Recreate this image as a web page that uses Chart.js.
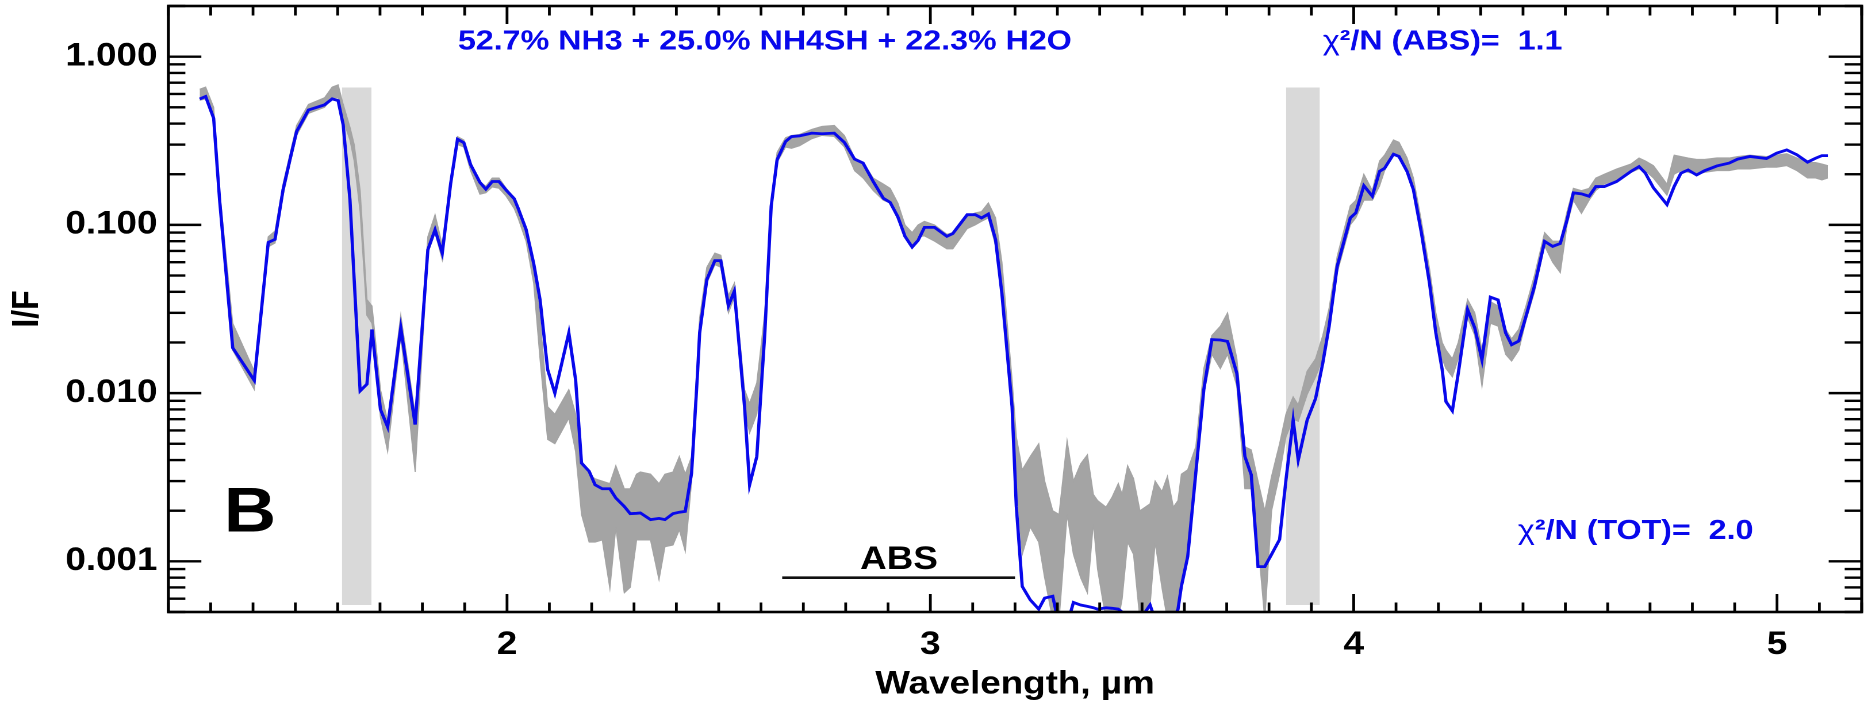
<!DOCTYPE html>
<html>
<head>
<meta charset="utf-8">
<title>I/F spectrum and cloud model fit</title>
<script src="https://cdn.jsdelivr.net/npm/chart.js@4.4.1/dist/chart.umd.min.js"></script>
<style>
  html, body { margin: 0; padding: 0; background: #fff; overflow: hidden; }
  /* The original figure is stretched sideways: draw it narrower, then stretch it back. */
  #wrap { width: 1621px; height: 708px; transform: scaleX(1.1499); transform-origin: 0 0; }
</style>
</head>
<body>
<div id="wrap"><canvas id="chart" width="1621" height="708"></canvas></div>
<script>
// ---------------------------------------------------------------------------
// Spectrum (grey band = observed I/F with its error range) and the best model
// (blue). Values read off the original figure.
// ---------------------------------------------------------------------------

// ===== data =====
const wavelength = [
  1.274, 1.288, 1.307, 1.321, 1.352, 1.403, 1.436, 1.452, 1.471, 1.489,
  1.503, 1.531, 1.569, 1.587, 1.601, 1.613, 1.629, 1.639, 1.653, 1.669,
  1.681, 1.701, 1.718, 1.749, 1.783, 1.813, 1.830, 1.847, 1.867, 1.883,
  1.898, 1.914, 1.936, 1.950, 1.965, 1.981, 1.998, 2.017, 2.026, 2.045,
  2.063, 2.078, 2.096, 2.113, 2.146, 2.162, 2.176, 2.194, 2.208, 2.225,
  2.243, 2.257, 2.277, 2.291, 2.306, 2.315, 2.339, 2.359, 2.373, 2.392,
  2.407, 2.421, 2.436, 2.450, 2.455, 2.472, 2.491, 2.505, 2.523, 2.537,
  2.561, 2.573, 2.590, 2.609, 2.624, 2.638, 2.658, 2.672, 2.691, 2.720,
  2.744, 2.773, 2.797, 2.821, 2.841, 2.865, 2.889, 2.905, 2.923, 2.940,
  2.957, 2.971, 2.986, 3.010, 3.039, 3.053, 3.087, 3.106, 3.121, 3.137,
  3.154, 3.169, 3.193, 3.203, 3.217, 3.236, 3.256, 3.270, 3.289, 3.304,
  3.323, 3.338, 3.355, 3.371, 3.385, 3.395, 3.415, 3.429, 3.444, 3.453,
  3.466, 3.480, 3.495, 3.519, 3.531, 3.547, 3.560, 3.574, 3.585, 3.593,
  3.608, 3.627, 3.646, 3.665, 3.685, 3.702, 3.724, 3.743, 3.758, 3.774,
  3.790, 3.806, 3.825, 3.840, 3.857, 3.869, 3.890, 3.910, 3.927, 3.942,
  3.961, 3.992, 4.005, 4.024, 4.044, 4.061, 4.073, 4.094, 4.107, 4.126,
  4.141, 4.160, 4.179, 4.194, 4.209, 4.218, 4.233, 4.247, 4.269, 4.286,
  4.303, 4.323, 4.341, 4.359, 4.373, 4.390, 4.407, 4.427, 4.451, 4.470,
  4.488, 4.504, 4.519, 4.538, 4.556, 4.572, 4.592, 4.621, 4.655, 4.674,
  4.689, 4.708, 4.740, 4.757, 4.773, 4.790, 4.810, 4.829, 4.858, 4.887,
  4.907, 4.936, 4.975, 4.999, 5.023, 5.047, 5.072, 5.091, 5.106, 5.120,
];

// best-fit model I/F (blue line)
const modelIF = [
  0.56, 0.58, 0.43, 0.141, 0.0186, 0.0119, 0.0787, 0.082, 0.162, 0.255,
  0.359, 0.482, 0.517, 0.561, 0.548, 0.393, 0.141, 0.047, 0.0103, 0.0113,
  0.0239, 0.0080, 0.0063, 0.0244, 0.0065, 0.0712, 0.0936, 0.068, 0.177, 0.323,
  0.308, 0.228, 0.179, 0.163, 0.181, 0.181, 0.161, 0.143, 0.126, 0.094,
  0.059, 0.036, 0.0138, 0.0100, 0.0228, 0.0120, 0.00384, 0.00343, 0.00285, 0.0027,
  0.0027, 0.00238, 0.00212, 0.00192, 0.00193, 0.00194, 0.00177, 0.0018, 0.00177, 0.00192,
  0.00196, 0.00198, 0.00335, 0.0131, 0.0228, 0.0473, 0.0613, 0.0613, 0.0331, 0.0403,
  0.00834, 0.00285, 0.0042, 0.0228, 0.129, 0.244, 0.313, 0.335, 0.338, 0.351,
  0.348, 0.351, 0.309, 0.246, 0.233, 0.181, 0.144, 0.136, 0.112, 0.0855,
  0.0738, 0.0809, 0.0966, 0.0966, 0.0855, 0.0888, 0.115, 0.115, 0.110, 0.116,
  0.0817, 0.039, 0.0083, 0.00212, 0.00071, 0.00059, 0.00052, 0.000605, 0.00062, 0.00042,
  0.00042, 0.00057, 0.00055, 0.00054, 0.00053, 0.00052, 0.00053, 0.000526, 0.00052, 0.0005,
  0.00045, 0.00045, 0.00045, 0.00055, 0.00045, 0.00045, 0.00045, 0.00045, 0.00052, 0.00071,
  0.00107, 0.00335, 0.0105, 0.0208, 0.0207, 0.0203, 0.0131, 0.0042, 0.00327, 0.00093,
  0.00093, 0.0011, 0.00135, 0.00305, 0.0069, 0.0040, 0.0069, 0.0093, 0.0151, 0.025,
  0.0567, 0.110, 0.118, 0.171, 0.148, 0.208, 0.217, 0.263, 0.255, 0.208,
  0.162, 0.0895, 0.0452, 0.0228, 0.0138, 0.0089, 0.00785, 0.0131, 0.0314, 0.0244,
  0.0158, 0.0372, 0.0358, 0.0228, 0.0194, 0.0204, 0.0286, 0.0432, 0.0798, 0.0745,
  0.0775, 0.107, 0.155, 0.153, 0.148, 0.169, 0.169, 0.181, 0.208, 0.222,
  0.203, 0.166, 0.132, 0.169, 0.203, 0.212, 0.198, 0.210, 0.224, 0.233,
  0.246, 0.255, 0.248, 0.267, 0.279, 0.261, 0.236, 0.249, 0.258, 0.258,
];

// observed I/F, lower and upper edge of the grey band
const dataLow = [
  0.55, 0.56, 0.42, 0.13, 0.018, 0.0105, 0.074, 0.078, 0.15, 0.24,
  0.34, 0.46, 0.50, 0.57, 0.57, 0.42, 0.32, 0.24, 0.12, 0.029,
  0.026, 0.0072, 0.0045, 0.022, 0.0034, 0.068, 0.09, 0.062, 0.17, 0.30,
  0.29, 0.21, 0.152, 0.155, 0.168, 0.165, 0.148, 0.125, 0.11, 0.08,
  0.045, 0.016, 0.0053, 0.0050, 0.0071, 0.0045, 0.0019, 0.0013, 0.0013, 0.00134,
  0.00069, 0.0016, 0.00065, 0.0007, 0.00134, 0.00134, 0.00134, 0.00078, 0.00122, 0.00125,
  0.00154, 0.00115, 0.0030, 0.012, 0.021, 0.045, 0.058, 0.056, 0.030, 0.037,
  0.0080, 0.0058, 0.0075, 0.022, 0.12, 0.235, 0.29, 0.285, 0.295, 0.325,
  0.34, 0.335, 0.29, 0.21, 0.19, 0.16, 0.14, 0.135, 0.108, 0.085,
  0.076, 0.085, 0.086, 0.080, 0.072, 0.072, 0.095, 0.10, 0.105, 0.11,
  0.075, 0.040, 0.008, 0.0030, 0.0011, 0.0016, 0.0013, 0.0008, 0.00045, 0.00045,
  0.0019, 0.0011, 0.0008, 0.00065, 0.0017, 0.0009, 0.00045, 0.00045, 0.00045, 0.0006,
  0.0013, 0.0011, 0.00045, 0.00055, 0.0013, 0.0007, 0.00045, 0.00045, 0.00045, 0.0008,
  0.0011, 0.0032, 0.010, 0.017, 0.014, 0.017, 0.011, 0.0027, 0.0027, 0.0013,
  0.00045, 0.0020, 0.0033, 0.0055, 0.0070, 0.0068, 0.0098, 0.0125, 0.016, 0.024,
  0.052, 0.10, 0.11, 0.14, 0.14, 0.17, 0.21, 0.27, 0.25, 0.21,
  0.16, 0.085, 0.042, 0.022, 0.016, 0.014, 0.0125, 0.016, 0.028, 0.022,
  0.011, 0.026, 0.025, 0.017, 0.0155, 0.018, 0.027, 0.040, 0.075, 0.060,
  0.052, 0.10, 0.14, 0.117, 0.14, 0.16, 0.175, 0.185, 0.205, 0.215,
  0.21, 0.19, 0.15, 0.20, 0.21, 0.205, 0.20, 0.205, 0.21, 0.21,
  0.215, 0.215, 0.22, 0.22, 0.225, 0.21, 0.19, 0.19, 0.185, 0.19,
];
const dataHigh = [
  0.64, 0.66, 0.50, 0.16, 0.026, 0.0135, 0.085, 0.092, 0.175, 0.275,
  0.39, 0.52, 0.57, 0.66, 0.68, 0.52, 0.38, 0.30, 0.16, 0.036,
  0.033, 0.0105, 0.0068, 0.029, 0.0075, 0.085, 0.115, 0.076, 0.19, 0.335,
  0.32, 0.235, 0.18, 0.17, 0.19, 0.19, 0.165, 0.145, 0.13, 0.095,
  0.06, 0.028, 0.0083, 0.0075, 0.0105, 0.0075, 0.0038, 0.0033, 0.0031, 0.0030,
  0.0029, 0.0037, 0.0027, 0.0027, 0.0033, 0.0034, 0.0033, 0.0029, 0.0033, 0.0034,
  0.0042, 0.0033, 0.0042, 0.016, 0.028, 0.056, 0.068, 0.066, 0.038, 0.045,
  0.0105, 0.0087, 0.0115, 0.030, 0.14, 0.27, 0.33, 0.34, 0.345, 0.37,
  0.385, 0.39, 0.34, 0.25, 0.235, 0.19, 0.175, 0.165, 0.135, 0.10,
  0.09, 0.10, 0.105, 0.10, 0.088, 0.09, 0.112, 0.118, 0.12, 0.135,
  0.11, 0.06, 0.012, 0.0055, 0.0035, 0.0042, 0.0050, 0.0030, 0.0020, 0.0019,
  0.0052, 0.0030, 0.0038, 0.0043, 0.0025, 0.0023, 0.0021, 0.0024, 0.0029, 0.0025,
  0.0037, 0.0031, 0.0020, 0.0022, 0.0030, 0.0026, 0.0032, 0.0021, 0.0023, 0.0033,
  0.0035, 0.0048, 0.014, 0.022, 0.025, 0.030, 0.016, 0.0048, 0.0046, 0.0030,
  0.0020, 0.0032, 0.0050, 0.0075, 0.0095, 0.0085, 0.0135, 0.016, 0.022, 0.032,
  0.065, 0.13, 0.14, 0.20, 0.16, 0.24, 0.26, 0.32, 0.31, 0.25,
  0.19, 0.105, 0.055, 0.030, 0.020, 0.018, 0.016, 0.020, 0.036, 0.030,
  0.018, 0.035, 0.033, 0.024, 0.021, 0.024, 0.033, 0.050, 0.090, 0.080,
  0.080, 0.12, 0.165, 0.16, 0.165, 0.19, 0.20, 0.215, 0.23, 0.25,
  0.24, 0.225, 0.175, 0.26, 0.255, 0.25, 0.245, 0.245, 0.25, 0.25,
  0.255, 0.26, 0.255, 0.26, 0.265, 0.25, 0.235, 0.235, 0.23, 0.225,
];

// excluded wavelength windows (light grey columns)
const bandStart = [1.61, 3.84];
const bandEnd = [1.68, 3.92];
const bandTop = 0.655;
const bandBottom = 0.00055;

// the "ABS" range marker
const absFrom = 2.65;
const absTo = 3.20;
const absLevel = 0.0008;

// axes
const xMin = 1.2, xMax = 5.2;
const yMin = 0.0005, yMax = 2.0;
const xLabelled = [2, 3, 4, 5];
const yLabelled = [0.001, 0.01, 0.1, 1];

const mixText = "52.7% NH3 + 25.0% NH4SH + 22.3% H2O";
const chiAbsText = "²/N (ABS)=  1.1";
const chiTotText = "²/N (TOT)=  2.0";
// ================

const FONT = '"Liberation Sans", Arial, Helvetica, sans-serif';
const BLUE = "rgb(8,8,235)";
const GREY = "#a4a4a4";
const LIGHT = "#d9d9d9";

// tick values: every 0.1 um, and 1..9 per decade
const xTickValues = [];
for (let k = Math.round(xMin * 10); k <= Math.round(xMax * 10); k++) xTickValues.push(k / 10);
const yTickValues = [];
for (let e = -4; e <= 0; e++) {
  for (let m = 1; m <= 9; m++) {
    const v = m * Math.pow(10, e);
    if (v >= yMin * 0.999 && v <= yMax * 1.001) yTickValues.push(v);
  }
}
const isWhole = (v) => Math.abs(v - Math.round(v)) < 1e-9;
const decadeOf = (v) => yLabelled.find((d) => Math.abs(v / d - 1) < 1e-9);
const isDecade = (v) => Math.abs(Math.log10(v) - Math.round(Math.log10(v))) < 1e-9;

const pts = (ys) => wavelength.map((w, i) => ({ x: w, y: ys[i] }));

// --- frame, inward ticks on all four sides, and the text labels -------------
function seg(ctx, x1, y1, x2, y2) {
  ctx.beginPath();
  ctx.moveTo(x1, y1);
  ctx.lineTo(x2, y2);
  ctx.stroke();
}

function chi(ctx, rest, px, py) {
  ctx.font = `28px ${FONT}`;
  ctx.fillText("χ", px, py);
  const w = ctx.measureText("χ").width;
  ctx.font = `bold 28px ${FONT}`;
  ctx.fillText(rest, px + w, py);
}

const frame = {
  id: "frame",
  afterDatasetsDraw(chart) {
    const { ctx, chartArea: a, scales: { x, y } } = chart;
    ctx.save();
    ctx.strokeStyle = "#000";
    ctx.lineWidth = 2.4;
    x.ticks.forEach((t) => {
      const px = x.getPixelForValue(t.value);
      const len = isWhole(t.value) ? 18 : 9.5;
      seg(ctx, px, a.bottom, px, a.bottom - len);
      seg(ctx, px, a.top, px, a.top + len);
    });
    y.ticks.forEach((t) => {
      const py = y.getPixelForValue(t.value);
      const len = isDecade(t.value) ? 28.7 : 14.8;
      seg(ctx, a.left, py, a.left + len, py);
      seg(ctx, a.right, py, a.right - len, py);
    });
    ctx.lineWidth = 2.6;
    ctx.strokeRect(a.left, a.top, a.right - a.left, a.bottom - a.top);

    // annotations, placed in data coordinates
    ctx.textBaseline = "alphabetic";
    ctx.textAlign = "left";
    ctx.fillStyle = BLUE;
    ctx.font = `bold 28px ${FONT}`;
    ctx.fillText(mixText, x.getPixelForValue(1.884), y.getPixelForValue(1.10));
    chi(ctx, chiAbsText, x.getPixelForValue(3.927), y.getPixelForValue(1.10));
    chi(ctx, chiTotText, x.getPixelForValue(4.388), y.getPixelForValue(0.00136));

    ctx.fillStyle = "#000";
    ctx.font = `bold 63px ${FONT}`;
    ctx.fillText("B", x.getPixelForValue(1.331), y.getPixelForValue(0.0015));
    ctx.textAlign = "center";
    ctx.font = `bold 32px ${FONT}`;
    ctx.fillText("ABS", x.getPixelForValue(2.926), y.getPixelForValue(0.0009));
    ctx.restore();
  },
};

// --- datasets ----------------------------------------------------------------
const datasets = [
  { label: "ABS range", data: [{ x: absFrom, y: absLevel }, { x: absTo, y: absLevel }],
    borderColor: "#111", borderWidth: 2.6, pointRadius: 0, fill: false, order: 0 },
  { label: "model", data: pts(modelIF), borderColor: BLUE, borderWidth: 2.8,
    pointRadius: 0, fill: false, order: 1 },
  { label: "data high", data: pts(dataHigh), borderColor: GREY, borderWidth: 1,
    backgroundColor: GREY, pointRadius: 0, fill: "+1", order: 2 },
  { label: "data low", data: pts(dataLow), borderColor: GREY, borderWidth: 1,
    pointRadius: 0, fill: false, order: 2 },
];
bandStart.forEach((s, i) => {
  datasets.push({
    label: "excluded " + (i + 1),
    data: [{ x: s, y: bandTop }, { x: bandEnd[i], y: bandTop }],
    borderColor: "rgba(0,0,0,0)", borderWidth: 0, backgroundColor: LIGHT,
    pointRadius: 0, fill: { value: bandBottom }, order: 3,
  });
});

const tickFont = { family: FONT, size: 32, weight: "bold" };

new Chart(document.getElementById("chart"), {
  type: "line",
  data: { datasets },
  options: {
    responsive: false,
    devicePixelRatio: 2,
    animation: false,
    events: [],
    layout: { padding: { top: 6, right: 2, left: 0, bottom: 0 } },
    plugins: { legend: { display: false }, tooltip: { enabled: false } },
    elements: { line: { tension: 0 } },
    scales: {
      x: {
        type: "linear", min: xMin, max: xMax,
        afterBuildTicks: (s) => { s.ticks = xTickValues.map((v) => ({ value: v })); },
        afterFit: (s) => { s.height = 96; s.paddingLeft = 0; s.paddingRight = 0; },
        grid: { display: false, drawTicks: false },
        border: { display: false },
        ticks: {
          autoSkip: false, maxRotation: 0, padding: 14, color: "#000", font: tickFont,
          callback: (v) => (xLabelled.includes(v) ? String(v) : ""),
        },
        title: {
          display: true, text: "Wavelength, µm", color: "#000",
          font: { family: FONT, size: 32, weight: "bold" }, padding: { top: 0, bottom: 4 },
        },
      },
      y: {
        type: "logarithmic", min: yMin, max: yMax,
        afterBuildTicks: (s) => { s.ticks = yTickValues.map((v) => ({ value: v })); },
        afterFit: (s) => { s.width = 146.4; s.paddingTop = 0; s.paddingBottom = 0; },
        grid: { display: false, drawTicks: false },
        border: { display: false },
        ticks: {
          autoSkip: false, padding: 9.5, color: "#000", font: tickFont,
          callback: (v) => { const d = decadeOf(v); return d ? d.toFixed(3) : ""; },
        },
        title: {
          display: true, text: "I/F", color: "#000",
          font: { family: FONT, size: 32, weight: "bold" }, padding: { top: 5, bottom: 0 },
        },
      },
    },
  },
  plugins: [frame],
});
</script>
</body>
</html>
